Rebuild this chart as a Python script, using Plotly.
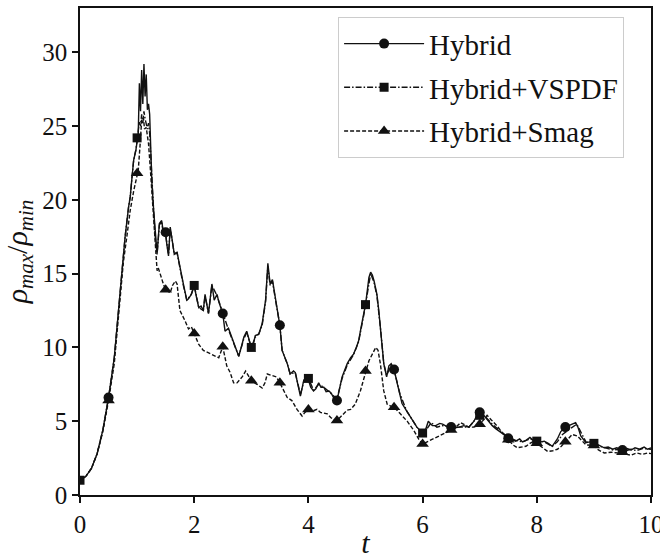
import plotly.graph_objects as go

# --- density ratio histories -------------------------------------------------
t_hybrid = [0.0, 0.1, 0.2, 0.3, 0.4, 0.5, 0.6, 0.7, 0.79, 0.85, 0.88, 0.91, 0.94, 0.98,
            1.0, 1.02, 1.04, 1.06, 1.08, 1.10, 1.12, 1.14, 1.16, 1.18, 1.20, 1.22, 1.24,
            1.26, 1.29, 1.32, 1.35, 1.39, 1.43, 1.46, 1.50, 1.52, 1.55, 1.58, 1.61, 1.65,
            1.70, 1.75, 1.81, 1.87, 1.90, 1.95, 2.0, 2.04, 2.08, 2.12, 2.16, 2.19, 2.25,
            2.31, 2.35, 2.40, 2.43, 2.5, 2.54, 2.6, 2.63, 2.69, 2.74, 2.78, 2.83, 2.87,
            2.92, 2.96, 3.0, 3.04, 3.07, 3.13, 3.19, 3.25, 3.29, 3.33, 3.37, 3.42, 3.5,
            3.54, 3.63, 3.68, 3.74, 3.77, 3.80, 3.86, 3.92, 4.0, 4.04, 4.09, 4.13, 4.18,
            4.22, 4.27, 4.31, 4.36, 4.40, 4.44, 4.5, 4.55, 4.59, 4.64, 4.68, 4.74, 4.79,
            4.84, 4.88, 4.92, 4.97, 5.0, 5.03, 5.06, 5.09, 5.12, 5.15, 5.2, 5.23, 5.26,
            5.32, 5.37, 5.41, 5.45, 5.5, 5.56, 5.6, 5.64, 5.72, 5.79, 5.9, 6.0, 6.05, 6.1,
            6.17, 6.23, 6.3, 6.35, 6.42, 6.5, 6.57, 6.64, 6.72, 6.81, 6.9, 6.95, 7.0, 7.05,
            7.1, 7.16, 7.22, 7.28, 7.34, 7.42, 7.5, 7.57, 7.63, 7.7, 7.75, 7.81, 7.88,
            7.95, 8.0, 8.07, 8.13, 8.2, 8.27, 8.36, 8.42, 8.5, 8.56, 8.62, 8.68, 8.72,
            8.77, 8.86, 8.93, 9.0, 9.08, 9.18, 9.25, 9.33, 9.4, 9.5, 9.58, 9.65, 9.72,
            9.8, 9.88, 9.94, 10.0]
rho_hybrid = [1.0, 1.25, 1.8, 2.8, 4.4, 6.6, 9.3, 13.8, 17.5, 19.5, 20.2, 21.5, 22.7, 23.4,
              24.2, 24.5, 27.9, 26.0, 28.8, 26.5, 29.2, 27.0, 28.5, 26.1, 26.5, 25.8, 23.4,
              21.1, 19.3, 17.5, 16.35, 18.4, 18.6, 17.8, 17.8, 17.0, 16.2, 18.15, 17.5, 16.35,
              16.45, 15.4, 14.3, 13.2, 13.3, 13.6, 14.2, 13.4, 12.7, 12.8, 12.5, 13.6, 12.3,
              14.3, 13.2, 13.6, 13.1, 12.3, 11.1, 11.3, 11.0, 10.3, 9.8, 9.4, 10.1, 10.7,
              11.1, 10.6, 10.0, 10.3, 10.8, 10.9, 11.6, 13.2, 15.7, 14.3, 14.6, 13.4, 11.5,
              9.8, 8.9, 8.2, 8.4, 8.3, 7.7, 6.7, 7.8, 7.8, 7.3, 7.05, 7.2, 7.6,
              7.3, 7.3, 7.0, 7.05, 6.9, 6.6, 6.4, 7.2, 8.0, 8.5, 8.9, 9.3, 9.55,
              10.0, 10.45, 11.3, 12.3, 12.9, 13.8, 14.75, 15.1, 14.9, 14.5, 13.6, 12.6, 11.4,
              8.9, 8.0, 8.75, 8.9, 8.5, 7.5, 6.8, 6.2, 5.7, 5.25, 4.6, 4.2, 4.4, 5.0,
              4.7, 4.7, 4.85, 4.8, 4.65, 4.6, 4.55, 4.6, 4.7, 4.6, 5.0, 5.4, 5.6, 5.5,
              5.25, 5.0, 4.7, 4.5, 4.35, 4.1, 3.85, 3.75, 3.65, 3.8, 3.6, 3.7, 3.9,
              3.65, 3.7, 3.6, 3.65, 3.5, 3.3, 3.8, 4.3, 4.6, 4.7, 4.85, 4.9, 4.6,
              4.0, 3.55, 3.6, 3.55, 3.4, 3.2, 3.25, 3.1, 3.2, 3.05, 3.15, 3.05, 3.2,
              3.1, 3.25, 3.1, 3.2]

t_vspdf = [0.0, 0.1, 0.2, 0.3, 0.4, 0.5, 0.6, 0.7, 0.79, 0.85, 0.88, 0.91, 0.94, 0.98,
           1.0, 1.02, 1.04, 1.06, 1.08, 1.10, 1.12, 1.14, 1.16, 1.18, 1.20, 1.22, 1.24,
           1.26, 1.29, 1.32, 1.35, 1.39, 1.43, 1.46, 1.50, 1.55, 1.58, 1.61, 1.65, 1.70,
           1.75, 1.81, 1.87, 1.95, 2.0, 2.08, 2.16, 2.19, 2.25, 2.31, 2.40, 2.5, 2.6,
           2.69, 2.78, 2.87, 2.92, 3.0, 3.07, 3.13, 3.19, 3.25, 3.29, 3.33, 3.37, 3.42,
           3.5, 3.54, 3.63, 3.68, 3.77, 3.86, 3.92, 4.0, 4.09, 4.18, 4.27, 4.36, 4.44,
           4.5, 4.59, 4.68, 4.79, 4.88, 4.97, 5.0, 5.06, 5.09, 5.15, 5.2, 5.26, 5.32,
           5.37, 5.45, 5.5, 5.6, 5.72, 5.9, 6.0, 6.08, 6.15, 6.25, 6.35, 6.5, 6.64,
           6.81, 6.92, 7.0, 7.1, 7.22, 7.34, 7.5, 7.63, 7.75, 7.88, 8.0, 8.13, 8.27,
           8.36, 8.45, 8.55, 8.62, 8.7, 8.78, 8.86, 9.0, 9.1, 9.2, 9.33, 9.45, 9.55,
           9.65, 9.75, 9.85, 10.0]
rho_vspdf = [1.0, 1.25, 1.8, 2.8, 4.4, 6.6, 9.3, 13.8, 17.5, 19.5, 20.2, 21.5, 22.7, 23.4,
             24.2, 24.8, 25.3, 25.0, 25.8, 25.2, 26.0, 25.5, 25.0, 24.8, 25.2, 24.5, 23.0,
             21.0, 19.2, 17.4, 16.3, 18.3, 18.5, 17.7, 17.6, 16.3, 18.0, 17.4, 16.3, 16.4,
             15.3, 14.2, 13.2, 13.6, 14.2, 12.7, 12.5, 13.5, 12.3, 14.2, 13.5, 12.3, 11.2,
             10.3, 9.4, 10.6, 11.0, 10.0, 10.7, 10.9, 11.5, 13.1, 15.5, 14.2, 14.5, 13.3,
             11.5, 9.8, 8.9, 8.2, 8.3, 6.8, 7.7, 7.9, 7.1, 7.5, 7.3, 7.0, 6.7,
             6.5, 7.9, 8.8, 9.5, 10.4, 12.2, 12.9, 14.6, 15.0, 14.4, 13.5, 11.4, 8.9,
             8.1, 8.8, 8.5, 6.9, 5.7, 4.6, 4.2, 4.5, 4.9, 4.6, 4.7, 4.6, 4.6,
             4.6, 5.1, 5.4, 5.3, 4.8, 4.4, 3.9, 3.7, 3.6, 3.8, 3.65, 3.6, 3.3,
             3.6, 4.1, 4.4, 4.6, 4.8, 4.2, 3.6, 3.5, 3.3, 3.2, 3.05, 3.1, 3.0,
             3.1, 3.0, 3.15, 3.1]

t_smag = [0.0, 0.1, 0.2, 0.3, 0.4, 0.5, 0.6, 0.7, 0.76, 0.82, 0.88, 0.94, 1.0, 1.02,
          1.05, 1.08, 1.11, 1.13, 1.16, 1.2, 1.23, 1.26, 1.29, 1.32, 1.35, 1.37, 1.40,
          1.46, 1.5, 1.58, 1.62, 1.67, 1.70, 1.75, 1.84, 1.9, 1.95, 2.0, 2.08, 2.16,
          2.25, 2.31, 2.37, 2.43, 2.5, 2.57, 2.63, 2.69, 2.75, 2.8, 2.84, 2.9, 2.95,
          3.0, 3.1, 3.19, 3.24, 3.28, 3.36, 3.44, 3.5, 3.57, 3.63, 3.71, 3.8, 3.89,
          3.94, 4.0, 4.08, 4.15, 4.21, 4.33, 4.39, 4.45, 4.5, 4.59, 4.68, 4.74, 4.82,
          4.91, 5.0, 5.06, 5.12, 5.18, 5.22, 5.26, 5.32, 5.38, 5.45, 5.5, 5.61, 5.73,
          5.85, 5.93, 6.0, 6.11, 6.2, 6.29, 6.4, 6.5, 6.58, 6.67, 6.74, 6.81, 6.9,
          7.0, 7.07, 7.13, 7.2, 7.3, 7.4, 7.5, 7.58, 7.66, 7.74, 7.81, 7.88, 7.95,
          8.0, 8.1, 8.19, 8.28, 8.36, 8.43, 8.5, 8.56, 8.62, 8.71, 8.78, 8.86, 9.0,
          9.08, 9.18, 9.3, 9.42, 9.5, 9.58, 9.65, 9.75, 9.85, 9.94, 10.0]
rho_smag = [1.0, 1.25, 1.8, 2.8, 4.3, 6.4, 8.9, 13.0, 15.8, 17.5, 19.3, 20.6, 21.8, 22.0,
            23.6, 25.4, 25.6, 24.8, 24.9, 23.8, 22.2, 20.4, 18.6, 16.6, 15.2, 15.4, 15.0,
            14.3, 13.9, 13.7, 14.2, 14.5, 14.3, 12.5, 11.8, 11.25, 11.4, 10.95, 10.2, 9.8,
            9.65, 9.5, 9.4, 9.3, 10.05, 8.75, 8.3, 7.6, 7.6, 7.8, 8.0, 8.4, 8.1,
            7.75, 7.5, 7.25, 7.6, 8.2, 8.1, 8.0, 7.6, 7.05, 6.6, 6.4, 5.8, 5.35,
            5.6, 5.8, 5.7, 5.8, 5.6, 5.5, 5.25, 5.1, 5.05, 5.4, 5.75, 5.8, 6.15,
            7.05, 8.4, 9.1, 9.55, 10.0, 9.8, 8.9, 7.05, 6.15, 6.0, 5.95, 5.5, 5.0,
            4.35, 3.8, 3.45, 3.65, 3.8, 4.0, 4.2, 4.4, 4.6, 4.9, 4.75, 4.6, 4.6,
            4.8, 5.1, 5.4, 5.1, 4.7, 4.2, 3.75, 3.4, 3.2, 3.25, 3.3, 3.5, 3.65,
            3.5, 3.2, 2.95, 3.0, 3.1, 3.3, 3.6, 3.85, 4.1, 4.0, 3.7, 3.4, 3.35,
            3.05, 2.85, 2.9, 2.85, 2.9, 2.75, 2.7, 2.85, 2.75, 2.85, 2.8]

# times at which each curve carries a marker
marks_hybrid = [0.5, 1.5, 2.5, 3.5, 4.5, 5.5, 6.5, 7.0, 7.5, 8.5, 9.5]
marks_vspdf = [0.0, 1.0, 2.0, 3.0, 4.0, 5.0, 6.0, 7.0, 8.0, 9.0]
marks_smag = [0.5, 1.0, 1.5, 2.0, 2.5, 3.0, 3.5, 4.0, 4.5, 5.0, 5.5, 6.0, 6.5, 7.0,
              7.5, 8.0, 8.5, 9.0, 9.5]

x_ticks = [0, 2, 4, 6, 8, 10]
y_ticks = [0, 5, 10, 15, 20, 25, 30]

FONT = "Liberation Serif"
BLACK = "#111111"

series = [
    ("Hybrid", t_hybrid, rho_hybrid, marks_hybrid, "solid", "circle", 10),
    ("Hybrid+VSPDF", t_vspdf, rho_vspdf, marks_vspdf, "6px,2px,1.5px,2px", "square", 9),
    ("Hybrid+Smag", t_smag, rho_smag, marks_smag, "4px,2px", "triangle-up", 11),
]


def at_times(t, y, marks):
    lookup = dict(zip(t, y))
    return [lookup[m] for m in marks]


fig = go.Figure()
for i, (name, t, y, marks, dash, symbol, msize) in enumerate(series):
    grp = f"g{i}"
    fig.add_trace(go.Scatter(
        x=t, y=y, mode="lines", line=dict(color=BLACK, width=1.4, dash=dash),
        showlegend=False, legendgroup=grp, hoverinfo="skip"))
    fig.add_trace(go.Scatter(
        x=marks, y=at_times(t, y, marks), mode="markers",
        marker=dict(symbol=symbol, size=msize, color=BLACK),
        showlegend=False, legendgroup=grp))
    # legend entry combining line style and marker
    fig.add_trace(go.Scatter(
        x=[None], y=[None], mode="lines+markers", name=name, legendgroup=grp,
        line=dict(color=BLACK, width=1.4, dash=dash),
        marker=dict(symbol=symbol, size=msize, color=BLACK)))

axis_common = dict(
    showline=True, linecolor=BLACK, linewidth=1.6, mirror=True,
    ticks="outside", ticklen=6, tickwidth=1.5, tickcolor=BLACK,
    showgrid=False, zeroline=False, ticklabeloverflow="allow", automargin=False,
    tickfont=dict(family=FONT, size=25, color=BLACK),
)

fig.update_xaxes(
    range=[0, 10], tickvals=x_ticks, ticktext=[str(v) for v in x_ticks],
    title=dict(text="<i>t</i>", font=dict(family=FONT, size=30, color=BLACK), standoff=2),
    **axis_common)
fig.update_yaxes(
    range=[0, 33], tickvals=y_ticks, ticktext=[str(v) for v in y_ticks],
    title=dict(text="<i>ρ<sub>max</sub></i>/<i>ρ<sub>min</sub></i>",
               font=dict(family=FONT, size=30, color=BLACK), standoff=6),
    **axis_common)

fig.update_layout(
    width=660, height=559,
    margin=dict(l=80, r=9, t=8, b=64),
    paper_bgcolor="white", plot_bgcolor="white",
    legend=dict(
        x=0.452, y=0.981, xanchor="left", yanchor="top",
        bgcolor="rgba(255,255,255,0.85)", bordercolor="#cccccc", borderwidth=1,
        font=dict(family=FONT, size=29, color=BLACK),
        tracegroupgap=3, itemwidth=80,
    ),
)

fig.write_html("out.html")
